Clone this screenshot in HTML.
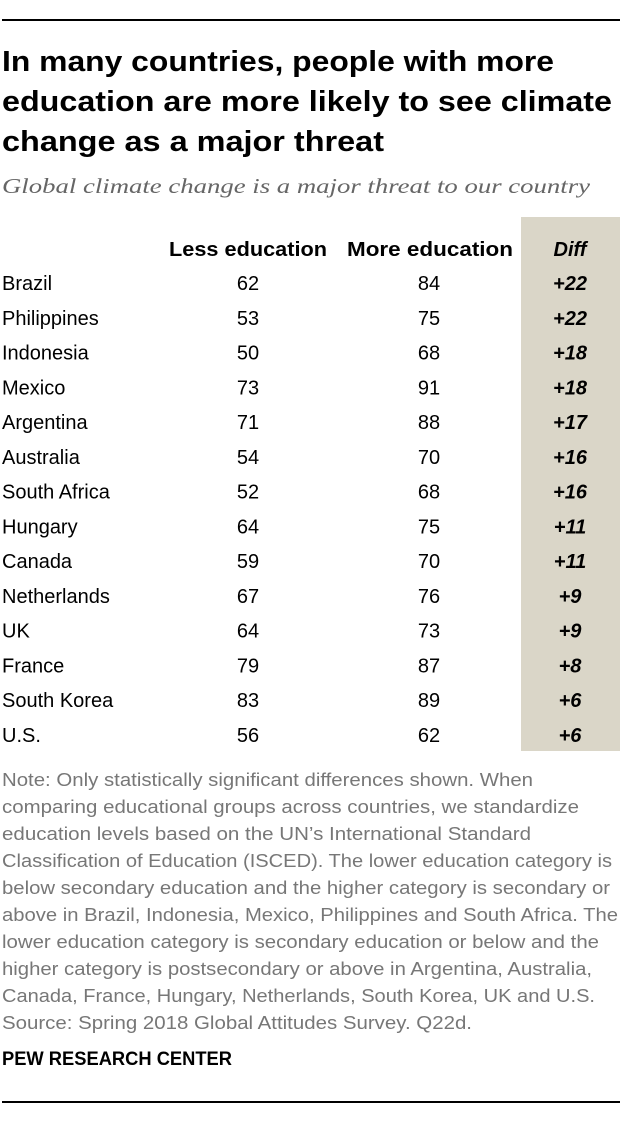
<!DOCTYPE html>
<html><head><meta charset="utf-8"><style>
html,body{margin:0;padding:0;background:#fff;}
svg{display:block;font-family:"Liberation Sans",sans-serif;}
</style></head><body>
<svg id="chart" width="620" height="1124" viewBox="0 0 620 1124" xmlns="http://www.w3.org/2000/svg">
<rect x="0" y="0" width="620" height="1124" fill="#fff"/>
<rect x="2" y="19" width="618" height="2" fill="#000"/>
<g font-weight="bold" font-size="29" fill="#000">
<text x="2" y="71" textLength="552" lengthAdjust="spacingAndGlyphs">In many countries, people with more</text>
<text x="2" y="111" textLength="610" lengthAdjust="spacingAndGlyphs">education are more likely to see climate</text>
<text x="2" y="151" textLength="382" lengthAdjust="spacingAndGlyphs">change as a major threat</text>
</g>
<text x="2" y="193" font-family="Liberation Serif, serif" font-style="italic" font-size="21" fill="#666" textLength="588" lengthAdjust="spacingAndGlyphs">Global climate change is a major threat to our country</text>
<rect x="521" y="217" width="99" height="534" fill="#dad6c8"/>
<g font-weight="bold" font-size="20" fill="#000">
<text x="169" y="256" textLength="158" lengthAdjust="spacingAndGlyphs">Less education</text>
<text x="347" y="256" textLength="166" lengthAdjust="spacingAndGlyphs">More education</text>
<text x="570" y="256" text-anchor="middle" font-style="italic">Diff</text>
</g>
<g id="rows"></g>
<g font-size="18" fill="#777">
<text x="2" y="786" textLength="531" lengthAdjust="spacingAndGlyphs">Note: Only statistically significant differences shown. When</text>
<text x="2" y="813" textLength="577" lengthAdjust="spacingAndGlyphs">comparing educational groups across countries, we standardize</text>
<text x="2" y="840" textLength="529" lengthAdjust="spacingAndGlyphs">education levels based on the UN’s International Standard</text>
<text x="2" y="867" textLength="610" lengthAdjust="spacingAndGlyphs">Classification of Education (ISCED). The lower education category is</text>
<text x="2" y="894" textLength="608" lengthAdjust="spacingAndGlyphs">below secondary education and the higher category is secondary or</text>
<text x="2" y="921" textLength="616" lengthAdjust="spacingAndGlyphs">above in Brazil, Indonesia, Mexico, Philippines and South Africa. The</text>
<text x="2" y="948" textLength="597" lengthAdjust="spacingAndGlyphs">lower education category is secondary education or below and the</text>
<text x="2" y="975" textLength="590" lengthAdjust="spacingAndGlyphs">higher category is postsecondary or above in Argentina, Australia,</text>
<text x="2" y="1002" textLength="593" lengthAdjust="spacingAndGlyphs">Canada, France, Hungary, Netherlands, South Korea, UK and U.S.</text>
<text x="2" y="1029" textLength="470" lengthAdjust="spacingAndGlyphs">Source: Spring 2018 Global Attitudes Survey. Q22d.</text>
</g>
<text x="2" y="1065" font-weight="bold" font-size="19" fill="#000" textLength="230" lengthAdjust="spacingAndGlyphs">PEW RESEARCH CENTER</text>
<rect x="2" y="1101" width="618" height="2" fill="#000"/>
</svg>
<script>
const countries = ["Brazil","Philippines","Indonesia","Mexico","Argentina","Australia","South Africa","Hungary","Canada","Netherlands","UK","France","South Korea","U.S."];
const lessEducation = [62,53,50,73,71,54,52,64,59,67,64,79,83,56];
const moreEducation = [84,75,68,91,88,70,68,75,70,76,73,87,89,62];
const diffs = [22,22,18,18,17,16,16,11,11,9,9,8,6,6];

const NS = "http://www.w3.org/2000/svg";
const rows = document.getElementById('rows');
function rowY(i){ return 290 + i * 34.77; }
function mk(x, y, txt, anchor, bold, italic){
  const t = document.createElementNS(NS, 'text');
  t.setAttribute('x', x); t.setAttribute('y', y);
  t.setAttribute('font-size', '20');
  t.setAttribute('fill', '#000');
  if (anchor) t.setAttribute('text-anchor', anchor);
  if (bold) t.setAttribute('font-weight', 'bold');
  if (italic) t.setAttribute('font-style', 'italic');
  t.textContent = txt;
  return t;
}
countries.forEach((c, i) => {
  const g = document.createElementNS(NS, 'g');
  
  
  const y = rowY(i);
  const a = mk(2, y, c);
  
  
  const b = mk(248, y, String(lessEducation[i]), 'middle');
  
  
  const d = mk(429, y, String(moreEducation[i]), 'middle');
  
  
  const e = mk(570, y, '+' + diffs[i], 'middle', true, true);
  
  
  g.appendChild(a); g.appendChild(b); g.appendChild(d); g.appendChild(e);
  rows.appendChild(g);
});
</script>
</body></html>
